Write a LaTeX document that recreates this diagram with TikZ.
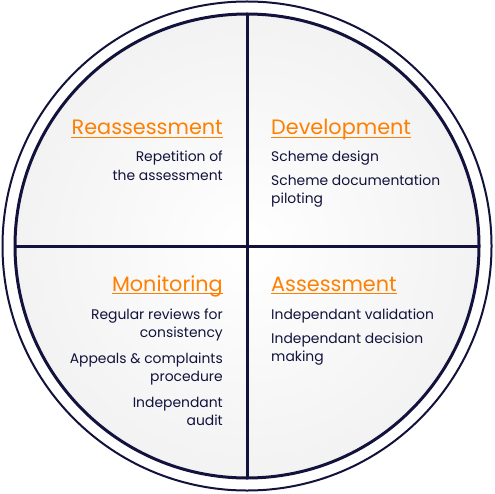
\documentclass[tikz,border=0pt]{standalone}
\usepackage{fontspec}
\setmainfont{Poppins}
\definecolor{navy}{HTML}{12123D}
\definecolor{orng}{HTML}{FF8000}
\begin{document}
\begin{tikzpicture}[x=1pt,y=-1pt,
  head/.style={font=\fontsize{20.8}{24}\selectfont, text=orng, inner sep=0pt},
  body/.style={font=\fontsize{13.9}{18}\selectfont, text=navy, inner sep=0pt},
  bodyr/.style={body, align=right, anchor=base east},
  bodyl/.style={body, align=left, anchor=base west},
  uline/.style={draw=orng, line width=1.5pt},
  ring/.style={draw=navy}]
\useasboundingbox (0,0) rectangle (494,494);
\fill[white] (0,0) rectangle (494,494);
\coordinate (c) at (247,246);
\shade[inner color=white, outer color=black!5] (c) circle[radius=232];
\draw[ring, line width=2] (c) circle[radius=244.5];
\draw[ring, line width=3] (c) circle[radius=232];
\coordinate (n) at (247,14);
\coordinate (s) at (247,478);
\coordinate (w) at (15,246);
\coordinate (e) at (479,246);
\draw[ring, line width=3] (n) -- (s);
\draw[ring, line width=3] (w) -- (e);
% headings
\node[head, anchor=base east] (reas) at (223,135) {Reassessment};
\node[head, anchor=base west] (dev) at (271,135) {Development};
\node[head, anchor=base east] (mon) at (223,291) {Monitoring};
\node[head, anchor=base west] (ass) at (271,291) {Assessment};
\foreach \h in {reas,dev,mon,ass}
  \draw[uline] ([yshift=-2.5pt]\h.base west) -- ([yshift=-2.5pt]\h.base east);
% bodies (base anchor = last line's baseline)
\node[bodyr] (r1) at (223,180) {Repetition of\\the assessment};
\node[bodyl] (d1) at (271,162) {Scheme design};
\node[bodyl] (d2) at (271,204) {Scheme documentation\\piloting};
\node[bodyr] (m1) at (223,337) {Regular reviews for\\consistency};
\node[bodyr] (m2) at (223,381) {Appeals \& complaints\\procedure};
\node[bodyr] (m3) at (223,425) {Independant\\audit};
\node[bodyl] (a1) at (271,319) {Independant validation};
\node[bodyl] (a2) at (271,361) {Independant decision\\making};
\end{tikzpicture}
\end{document}
